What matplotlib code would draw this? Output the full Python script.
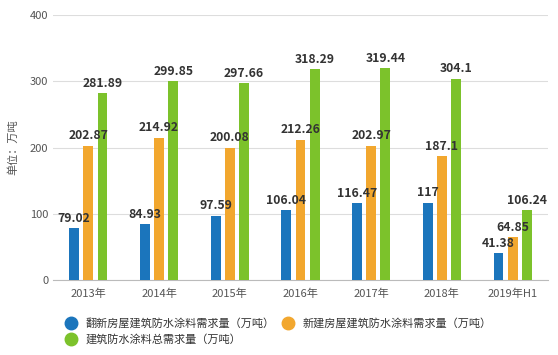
import numpy as np
import matplotlib.pyplot as plt
from matplotlib.lines import Line2D

plt.rcParams['font.family'] = ['Noto Sans CJK SC', 'DejaVu Sans']

# data
years = ['2013年', '2014年', '2015年', '2016年', '2017年', '2018年', '2019年H1']
renovate = [79.02, 84.93, 97.59, 106.04, 116.47, 117, 41.38]
new_build = [202.87, 214.92, 200.08, 212.26, 202.97, 187.1, 64.85]
total = [281.89, 299.85, 297.66, 318.29, 319.44, 304.1, 106.24]
series_names = ['翻新房屋建筑防水涂料需求量（万吨）',
                '新建房屋建筑防水涂料需求量（万吨）',
                '建筑防水涂料总需求量（万吨）']
colors = ['#1b75bc', '#f2a72e', '#7cc22b']

fig = plt.figure(figsize=(5.58, 3.55), dpi=100)
ax = fig.add_axes([0.095, 0.21, 0.887, 0.748])

x = np.arange(len(years))
w = 0.14
step = 0.2
for k, vals in enumerate([renovate, new_build, total]):
    pos = x + (k - 1) * step
    ax.bar(pos, vals, width=w, color=colors[k], zorder=3)
    for p, v in zip(pos, vals):
        ax.text(p, v + 5, f'{v:g}', ha='center', va='bottom', fontsize=8.8,
                fontweight='bold', color='#333333', zorder=4)

ax.set_ylim(0, 400)
ax.set_xlim(-0.5, len(years) - 0.5)
ax.set_yticks([0, 100, 200, 300, 400])
ax.set_xticks(x)
ax.set_xticklabels(years)
ax.yaxis.grid(True, color='#dddddd', linewidth=0.8, zorder=0)
for s in ['top', 'right', 'left']:
    ax.spines[s].set_visible(False)
ax.spines['bottom'].set_color('#bbbbbb')
ax.tick_params(axis='both', length=0, labelsize=8, colors='#555555')
ax.tick_params(axis='x', pad=6)
ax.set_ylabel('单位：万吨', fontsize=8, color='#555555', labelpad=8)

handles = [Line2D([], [], marker='o', linestyle='', markersize=9, color=colors[i])
           for i in [0, 2, 1]]
labels = [series_names[i] for i in [0, 2, 1]]
fig.legend(handles, labels, ncol=2, loc='lower left', bbox_to_anchor=(0.09, 0.0),
           frameon=False, fontsize=8, handletextpad=0.3, columnspacing=0.2,
           labelspacing=0.5, labelcolor='#333333')

fig.savefig('out.png', dpi=100)
